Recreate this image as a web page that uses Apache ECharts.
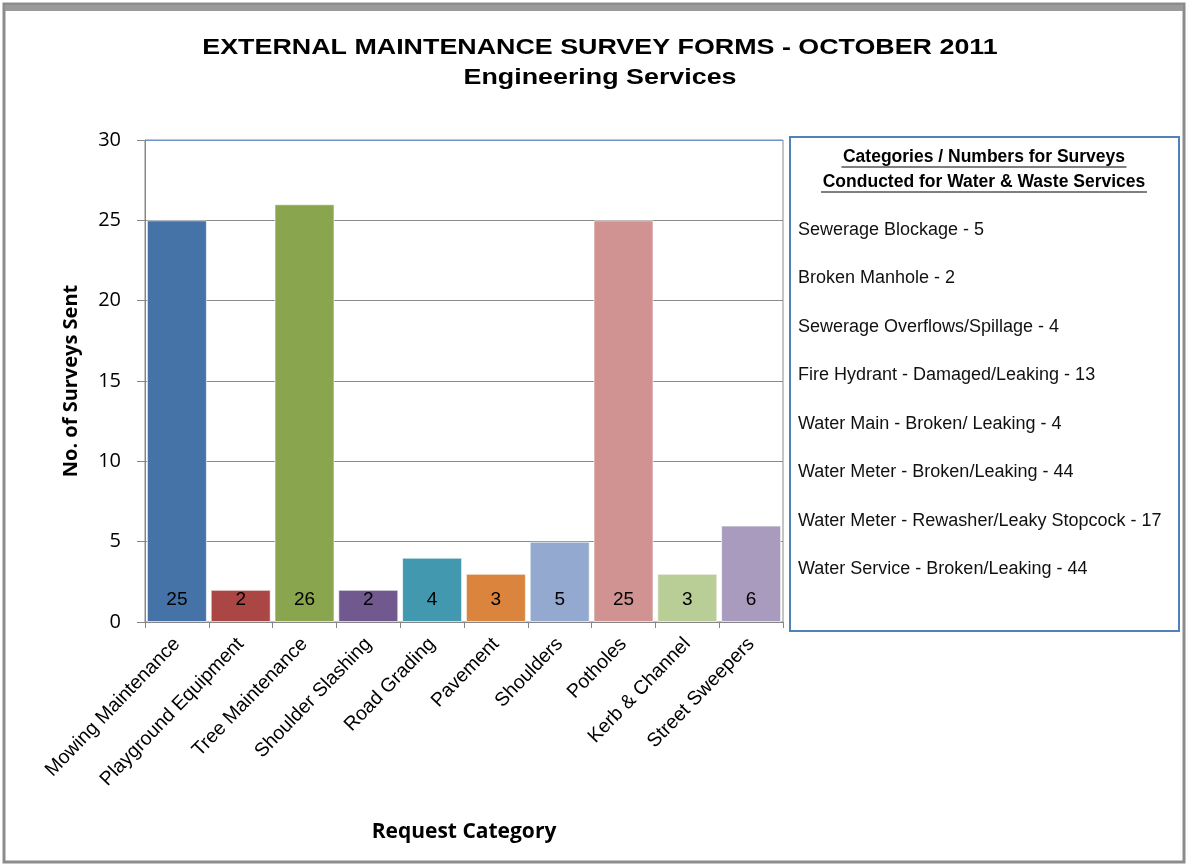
<!DOCTYPE html>
<html>
<head>
<meta charset="utf-8">
<script src="https://cdn.jsdelivr.net/npm/echarts@6/dist/echarts.min.js"></script>
<style>
  html, body { margin: 0; padding: 0; background: #fff; }
  #main { width: 1189px; height: 867px; }
</style>
</head>
<body>
<div id="main"></div>
<script>
var titleLines = ['EXTERNAL MAINTENANCE SURVEY FORMS - OCTOBER 2011', 'Engineering Services'];
var categories = ['Mowing Maintenance', 'Playground Equipment', 'Tree Maintenance', 'Shoulder Slashing',
	'Road Grading', 'Pavement', 'Shoulders', 'Potholes', 'Kerb & Channel', 'Street Sweepers'];
var surveys = [25, 2, 26, 2, 4, 3, 5, 25, 3, 6];
var barColors = ['#4572A7', '#AA4643', '#89A54E', '#71588F', '#4198AF',
	'#DB843D', '#93A9CF', '#D19392', '#B9CD96', '#A99BBD'];
var yTicks = [0, 5, 10, 15, 20, 25, 30];

// side box: water & waste services
var boxTitle = ['Categories / Numbers for Surveys', 'Conducted for Water & Waste Services'];
var waterItems = [
	'Sewerage Blockage - 5',
	'Broken Manhole - 2',
	'Sewerage Overflows/Spillage - 4',
	'Fire Hydrant - Damaged/Leaking - 13',
	'Water Main - Broken/ Leaking - 4',
	'Water Meter - Broken/Leaking - 44',
	'Water Meter - Rewasher/Leaky Stopcock - 17',
	'Water Service - Broken/Leaking - 44'
];

var chart = echarts.init(document.getElementById('main'));

var graphics = [
	// outer frame
	{ type: 'rect', shape: { x: 4, y: 4, width: 1180, height: 858 }, style: { fill: 'none', stroke: '#8c8c8c', lineWidth: 3 }, z: 10 },
	{ type: 'rect', shape: { x: 5, y: 5, width: 1178, height: 6 }, style: { fill: '#9a9a9a' }, z: 10 },
	// top edge of plot area is bluish in the original
	{ type: 'line', shape: { x1: 145, y1: 140.5, x2: 783, y2: 140.5 }, style: { stroke: '#6f93c4', lineWidth: 1 }, z: 4 },
	// side box
	{ type: 'rect', shape: { x: 790, y: 137, width: 389, height: 494 }, style: { fill: '#fff', stroke: '#4F81BD', lineWidth: 2 }, z: 5 }
];
// title, stretched a bit like the original
titleLines.forEach(function (t, i) {
	graphics.push({
		type: 'text', x: 600, y: 48 + i * 30, scaleX: 1.22, z: 6,
		style: { text: t, fill: '#000', font: 'bold 22px "Liberation Sans", Arial', align: 'center', verticalAlign: 'middle' }
	});
});
var titleW = [285, 326];
boxTitle.forEach(function (t, i) {
	graphics.push({
		type: 'text', x: 984, y: 157 + i * 25, z: 6,
		style: { text: t, fill: '#000', font: 'bold 17.5px "Liberation Sans", Arial', align: 'center', verticalAlign: 'middle' }
	});
	graphics.push({
		type: 'line', z: 6,
		shape: { x1: 984 - titleW[i] / 2, y1: 167 + i * 25, x2: 984 + titleW[i] / 2, y2: 167 + i * 25 },
		style: { stroke: '#000', lineWidth: 1.2 }
	});
});
waterItems.forEach(function (t, i) {
	graphics.push({
		type: 'text', x: 798, y: 230 + i * 48.5, z: 6,
		style: { text: t, fill: '#111', font: '18px "Liberation Sans", Arial', align: 'left', verticalAlign: 'middle' }
	});
});

chart.setOption({
	animation: false,
	backgroundColor: '#fff',
	grid: {
		left: 145,
		right: 406,
		top: 140,
		bottom: 245,
		show: true,
		borderColor: '#8a8a8a',
		borderWidth: 1
	},
	xAxis: {
		type: 'category',
		data: categories,
		name: 'Request Category',
		nameLocation: 'middle',
		nameGap: 200,
		nameTextStyle: { fontFamily: '"Open Sans", Calibri, sans-serif', fontWeight: 'bold', fontSize: 21, color: '#000' },
		axisLine: { lineStyle: { color: '#868686' } },
		axisTick: { show: true, length: 6, alignWithLabel: false, lineStyle: { color: '#868686' } },
		axisLabel: {
			rotate: 46,
			interval: 0,
			margin: 19,
			fontFamily: '"Liberation Sans", Arial',
			fontSize: 19.5,
			color: '#000'
		}
	},
	yAxis: {
		type: 'value',
		min: 0,
		max: 30,
		interval: 5,
		name: 'No. of Surveys Sent',
		nameLocation: 'middle',
		nameGap: 64,
		nameTextStyle: { fontFamily: '"Open Sans", Calibri, sans-serif', fontWeight: 'bold', fontSize: 20, color: '#000' },
		axisLine: { show: true, lineStyle: { color: '#868686' } },
		axisTick: { show: true, length: 8, lineStyle: { color: '#868686' } },
		axisLabel: {
			margin: 24,
			fontFamily: '"Open Sans", Calibri, sans-serif',
			fontSize: 20,
			color: '#000',
			formatter: function (v) { return yTicks.indexOf(v) >= 0 ? String(v) : ''; }
		},
		splitLine: { lineStyle: { color: '#8a8a8a', width: 1 } }
	},
	series: [{
		type: 'bar',
		data: surveys.map(function (v, i) {
			return { value: v, itemStyle: { color: barColors[i] } };
		}),
		barCategoryGap: '6%',
		itemStyle: { borderColor: 'rgba(255,255,255,0.6)', borderWidth: 1 },
		label: {
			show: true,
			position: 'insideBottom',
			distance: 13,
			fontFamily: '"Liberation Sans", Arial',
			fontSize: 19,
			color: '#000'
		}
	}],
	graphic: graphics
});
</script>
</body>
</html>
